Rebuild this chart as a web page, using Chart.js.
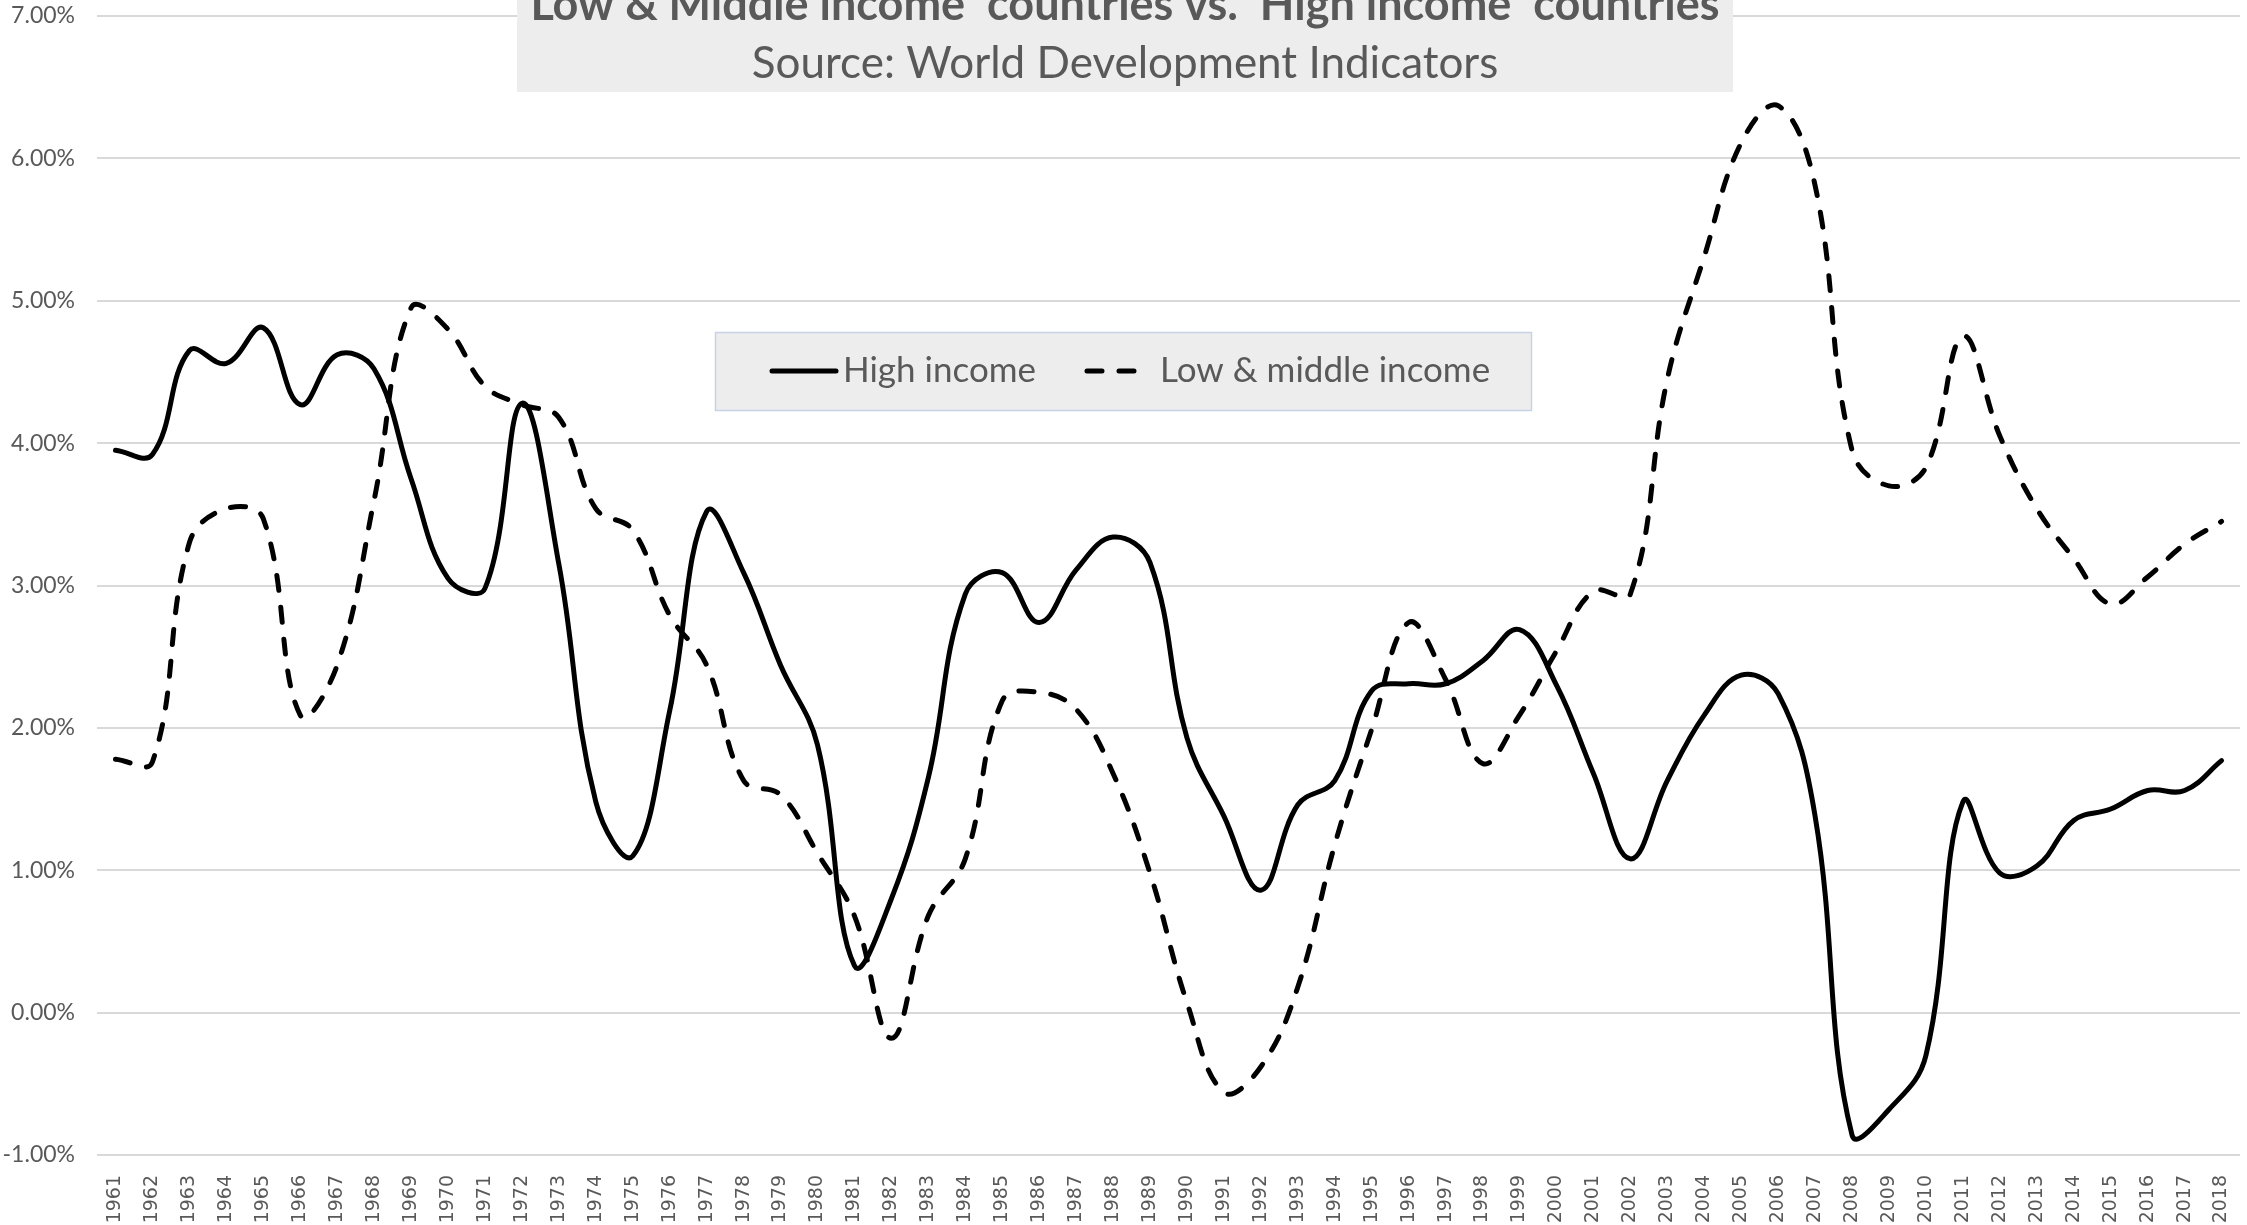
<!DOCTYPE html>
<html lang="en">
<head>
  <meta charset="UTF-8">
  <title>GDP per capita growth: Low & Middle vs High income</title>
  <script src="https://cdn.jsdelivr.net/npm/chart.js"></script>
  <style>
    html, body { margin: 0; padding: 0; background: #fff; }
    #wrap { width: 2247px; height: 1225px; position: relative; }
  </style>
</head>
<body>
  <div id="wrap">
    <canvas id="growthChart"></canvas>
  </div>

  <script>
    // Years on the x axis
    const years = [];
    for (let y = 1961; y <= 2018; y++) years.push(String(y));

    // Annual growth, in percent
    const highIncome = [
      3.95, 3.92, 4.65, 4.56, 4.81, 4.27, 4.62, 4.52, 3.75, 3.05,
      2.98, 4.28, 3.15, 1.48, 1.10, 2.12, 3.52, 3.09, 2.44, 1.88,
      0.33, 0.80, 1.65, 2.94, 3.09, 2.74, 3.11, 3.34, 3.16, 1.93,
      1.38, 0.86, 1.46, 1.63, 2.26, 2.31, 2.31, 2.47, 2.69, 2.30,
      1.68, 1.08, 1.63, 2.09, 2.37, 2.24, 1.38, -0.86, -0.68, -0.30,
      1.48, 0.98, 1.03, 1.35, 1.43, 1.56, 1.56, 1.77
    ];
    const lowMiddleIncome = [
      1.78, 1.76, 3.30, 3.54, 3.47, 2.09, 2.44, 3.60, 4.95, 4.80,
      4.40, 4.27, 4.18, 3.54, 3.39, 2.79, 2.44, 1.63, 1.53, 1.12,
      0.68, -0.18, 0.68, 1.08, 2.19, 2.25, 2.13, 1.68, 0.98, 0.07,
      -0.56, -0.38, 0.18, 1.18, 1.99, 2.74, 2.34, 1.75, 2.09, 2.54,
      2.96, 2.94, 4.45, 5.31, 6.11, 6.37, 5.81, 3.95, 3.70, 3.83,
      4.75, 4.05, 3.54, 3.19, 2.87, 3.06, 3.29, 3.45
    ];

    const seriesNames = ['High income', 'Low & middle income'];
    const titleLines = [
      'Low & Middle income  countries vs.  High income  countries',
      'Source: World Development Indicators'
    ];

    const textColor = '#595959';
    const dash = [15, 17];

    // Grey title box across the top of the plot
    const titleBox = {
      id: 'titleBox',
      afterDraw(chart) {
        const ctx = chart.ctx;
        ctx.save();
        ctx.fillStyle = '#ededed';
        ctx.fillRect(517, 0, 1216, 92);
        ctx.fillStyle = textColor;
        ctx.textAlign = 'center';
        ctx.textBaseline = 'alphabetic';
        ctx.font = 'bold 45px Lato, sans-serif';
        ctx.fillText(titleLines[0], 1125, 20);
        ctx.font = '44px Lato, sans-serif';
        ctx.fillText(titleLines[1], 1125, 78);
        ctx.restore();
      }
    };

    // Boxed legend floating inside the plot
    const boxLegend = {
      id: 'boxLegend',
      afterDraw(chart) {
        const ctx = chart.ctx;
        const ds = chart.data.datasets;
        ctx.save();
        ctx.fillStyle = '#ededed';
        ctx.fillRect(715, 332, 817, 79);
        ctx.strokeStyle = '#c8d2e6';
        ctx.lineWidth = 1.5;
        ctx.strokeRect(715.5, 332.5, 816, 78);

        const cy = 371;
        const items = [
          { x0: 772, x1: 836, tx: 843 },
          { x0: 1087, x1: 1150, tx: 1160 }
        ];
        items.forEach((it, i) => {
          ctx.beginPath();
          ctx.strokeStyle = ds[i].borderColor;
          ctx.lineWidth = ds[i].borderWidth;
          ctx.lineCap = 'round';
          ctx.setLineDash(ds[i].borderDash || []);
          ctx.moveTo(it.x0, cy);
          ctx.lineTo(it.x1, cy);
          ctx.stroke();
          ctx.setLineDash([]);
          ctx.fillStyle = textColor;
          ctx.font = '35px Lato, sans-serif';
          ctx.textAlign = 'left';
          ctx.textBaseline = 'middle';
          ctx.fillText(ds[i].label, it.tx, cy);
        });
        ctx.restore();
      }
    };

    const ctx = document.getElementById('growthChart').getContext('2d');
    new Chart(ctx, {
      type: 'line',
      data: {
        labels: years,
        datasets: [
          {
            label: seriesNames[0],
            data: highIncome,
            borderColor: '#000',
            borderWidth: 5,
            borderCapStyle: 'round',
            pointRadius: 0,
            tension: 0.4,
            fill: false
          },
          {
            label: seriesNames[1],
            data: lowMiddleIncome,
            borderColor: '#000',
            borderWidth: 5,
            borderDash: dash,
            borderCapStyle: 'round',
            pointRadius: 0,
            tension: 0.4,
            fill: false
          }
        ]
      },
      options: {
        responsive: true,
        maintainAspectRatio: false,
        animation: false,
        layout: { padding: { top: 16, right: 7, left: 0, bottom: 0 } },
        plugins: {
          legend: { display: false },
          title: { display: false },
          tooltip: { enabled: false }
        },
        scales: {
          x: {
            offset: true,
            grid: { display: false },
            border: { display: false },
            ticks: {
              autoSkip: false,
              minRotation: 90,
              maxRotation: 90,
              padding: 12,
              color: textColor,
              font: { family: 'DejaVu Sans', size: 19 }
            },
            afterFit(scale) {
              scale.height = 70;
              scale.paddingLeft = 0;
              scale.paddingRight = 0;
            }
          },
          y: {
            min: -1,
            max: 7,
            grid: { color: '#d9d9d9', lineWidth: 2, drawTicks: false },
            border: { display: false },
            ticks: {
              stepSize: 1,
              padding: 22,
              color: textColor,
              font: { family: 'Lato', size: 23 },
              callback: v => v.toFixed(2) + '%'
            },
            afterFit(scale) {
              scale.width = 97;
              scale.paddingTop = 0;
              scale.paddingBottom = 0;
            }
          }
        }
      },
      plugins: [titleBox, boxLegend]
    });
  </script>
</body>
</html>
